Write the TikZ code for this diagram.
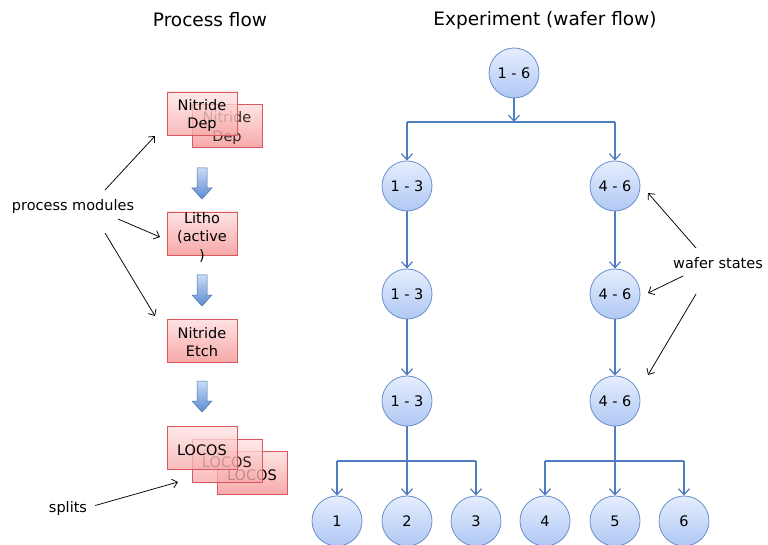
\documentclass[tikz,border=0pt]{standalone}
\usepackage{fontspec}
\setmainfont{DejaVu Sans}
\usetikzlibrary{arrows.meta,shadings}
\definecolor{linec}{HTML}{4F7EC0}
\definecolor{circb}{HTML}{6A8FCC}
\definecolor{circt}{HTML}{E6EEFD}
\definecolor{circbot}{HTML}{AFC8F4}
\definecolor{boxb}{HTML}{D85A5C}
\definecolor{boxt}{HTML}{FFE3E3}
\definecolor{boxbot}{HTML}{F7A9A9}
\definecolor{blkt}{HTML}{C9DBF7}
\definecolor{blkb}{HTML}{5C8BD0}
\tikzset{
  x=1pt,y=-1pt,
  lbl/.style={font=\fontsize{14.5}{18.5}\selectfont,align=center,inner sep=0pt},
  ttl/.style={font=\fontsize{18.5}{22}\selectfont,inner sep=0pt},
  boxn/.style={draw=boxb,line width=0.8pt,top color=boxt,bottom color=boxbot,minimum width=70pt,minimum height=43pt,inner sep=0pt},
  boxf/.style={boxn,fill opacity=0.78},
  circ/.style={circle,draw=circb,line width=0.8pt,top color=circt,bottom color=circbot,minimum size=50pt,inner sep=0pt,font=\fontsize{14.5}{17}\selectfont},
  conn/.style={draw=linec,line width=1.6pt},
  carr/.style={conn,-{Straight Barb[length=6pt,width=11pt,line width=1.2pt]}},
  ann/.style={draw=black,line width=0.75pt,-{Straight Barb[length=5pt,width=9pt,line width=0.75pt]}},
  blk/.style={draw=blkb!80!black,line width=0.5pt,top color=blkt,bottom color=blkb}
}
\begin{document}
\begin{tikzpicture}
\useasboundingbox (0,0) rectangle (768,545);
% titles
\node[ttl] (t1) at (210,20) {Process flow};
\node[ttl] (t2) at (545,20) {Experiment (wafer flow)};

% process boxes
\node[boxn] (nd2) at (227,126) {};
\node[lbl,opacity=0.8] (nd2t) at (227,128) {Nitride\\Dep};
\node[boxf] (nd1) at (202,113.5) {};
\node[lbl] (nd1t) at (202,115.5) {Nitride\\Dep};

\node[boxn] (li) at (202,233.5) {};
\node[lbl] (lit) at (202,237) {Litho\\(active\\)};

\node[boxn] (ne) at (202,340.5) {};
\node[lbl] (net) at (202,342) {Nitride\\Etch};

\node[boxn] (lo3) at (252,473) {};
\node[lbl] (lo3t) at (252,475) {LOCOS};
\node[boxf] (lo2) at (227,460.5) {};
\node[lbl,opacity=0.85] (lo2t) at (227,462.5) {LOCOS};
\node[boxf] (lo1) at (202,448) {};
\node[lbl] (lo1t) at (202,450) {LOCOS};

% block arrows
\foreach \y in {168,275,381}{
  \path[blk] (197,\y) -- (207,\y) -- (207,\y+20) -- (212,\y+20) -- (202,\y+31) -- (192,\y+20) -- (197,\y+20) -- cycle;
}

% annotations left
\node[lbl] (pm) at (73,206.5) {process modules};
\coordinate (pm1) at (105,190);
\coordinate (pm2) at (118,219);
\coordinate (pm3) at (105,233);
\draw[ann] (pm1) -- (155,136);
\draw[ann] (pm2) -- (160,237);
\draw[ann] (pm3) -- (155,316);
\node[lbl] (sp) at (68,508.5) {splits};
\draw[ann] (sp.east) ++(8,-3) -- (178,482);

% circles
\node[circ] (c16) at (514,73) {1 - 6};
\node[circ] (a1) at (407,186) {1 - 3};
\node[circ] (a2) at (407,294) {1 - 3};
\node[circ] (a3) at (407,401) {1 - 3};
\node[circ] (b1) at (615,186) {4 - 6};
\node[circ] (b2) at (615,294) {4 - 6};
\node[circ] (b3) at (615,401) {4 - 6};
\node[circ] (l1) at (337,521) {1};
\node[circ] (l2) at (407,521) {2};
\node[circ] (l3) at (476,521) {3};
\node[circ] (l4) at (545,521) {4};
\node[circ] (l5) at (615,521) {5};
\node[circ] (l6) at (684,521) {6};

% top split
\coordinate (s0) at (514,122);
\draw[carr] (c16.south) -- (s0);
\draw[conn] (a1 |- s0) -- (b1 |- s0);
\draw[carr] (a1 |- s0) -- (a1.north);
\draw[carr] (b1 |- s0) -- (b1.north);
% chains
\draw[carr] (a1.south) -- (a2.north);
\draw[carr] (a2.south) -- (a3.north);
\draw[carr] (b1.south) -- (b2.north);
\draw[carr] (b2.south) -- (b3.north);
% bottom splits
\coordinate (sa) at (407,461);
\coordinate (sb) at (615,461);
\draw[conn] (l1 |- sa) -- (l3 |- sa);
\draw[conn] (l4 |- sb) -- (l6 |- sb);
\draw[carr] (a3.south) -- (l2.north);
\draw[carr] (b3.south) -- (l5.north);
\draw[carr] (l1 |- sa) -- (l1.north);
\draw[carr] (l3 |- sa) -- (l3.north);
\draw[carr] (l4 |- sb) -- (l4.north);
\draw[carr] (l6 |- sb) -- (l6.north);

% annotations right
\node[lbl] (ws) at (718,263.5) {wafer states};
\coordinate (ws1) at (696,248);
\coordinate (ws2) at (683,276);
\coordinate (ws3) at (696,294);
\draw[ann] (ws1) -- (648,193);
\draw[ann] (ws2) -- (648,293);
\draw[ann] (ws3) -- (648,375);
\end{tikzpicture}
\end{document}
